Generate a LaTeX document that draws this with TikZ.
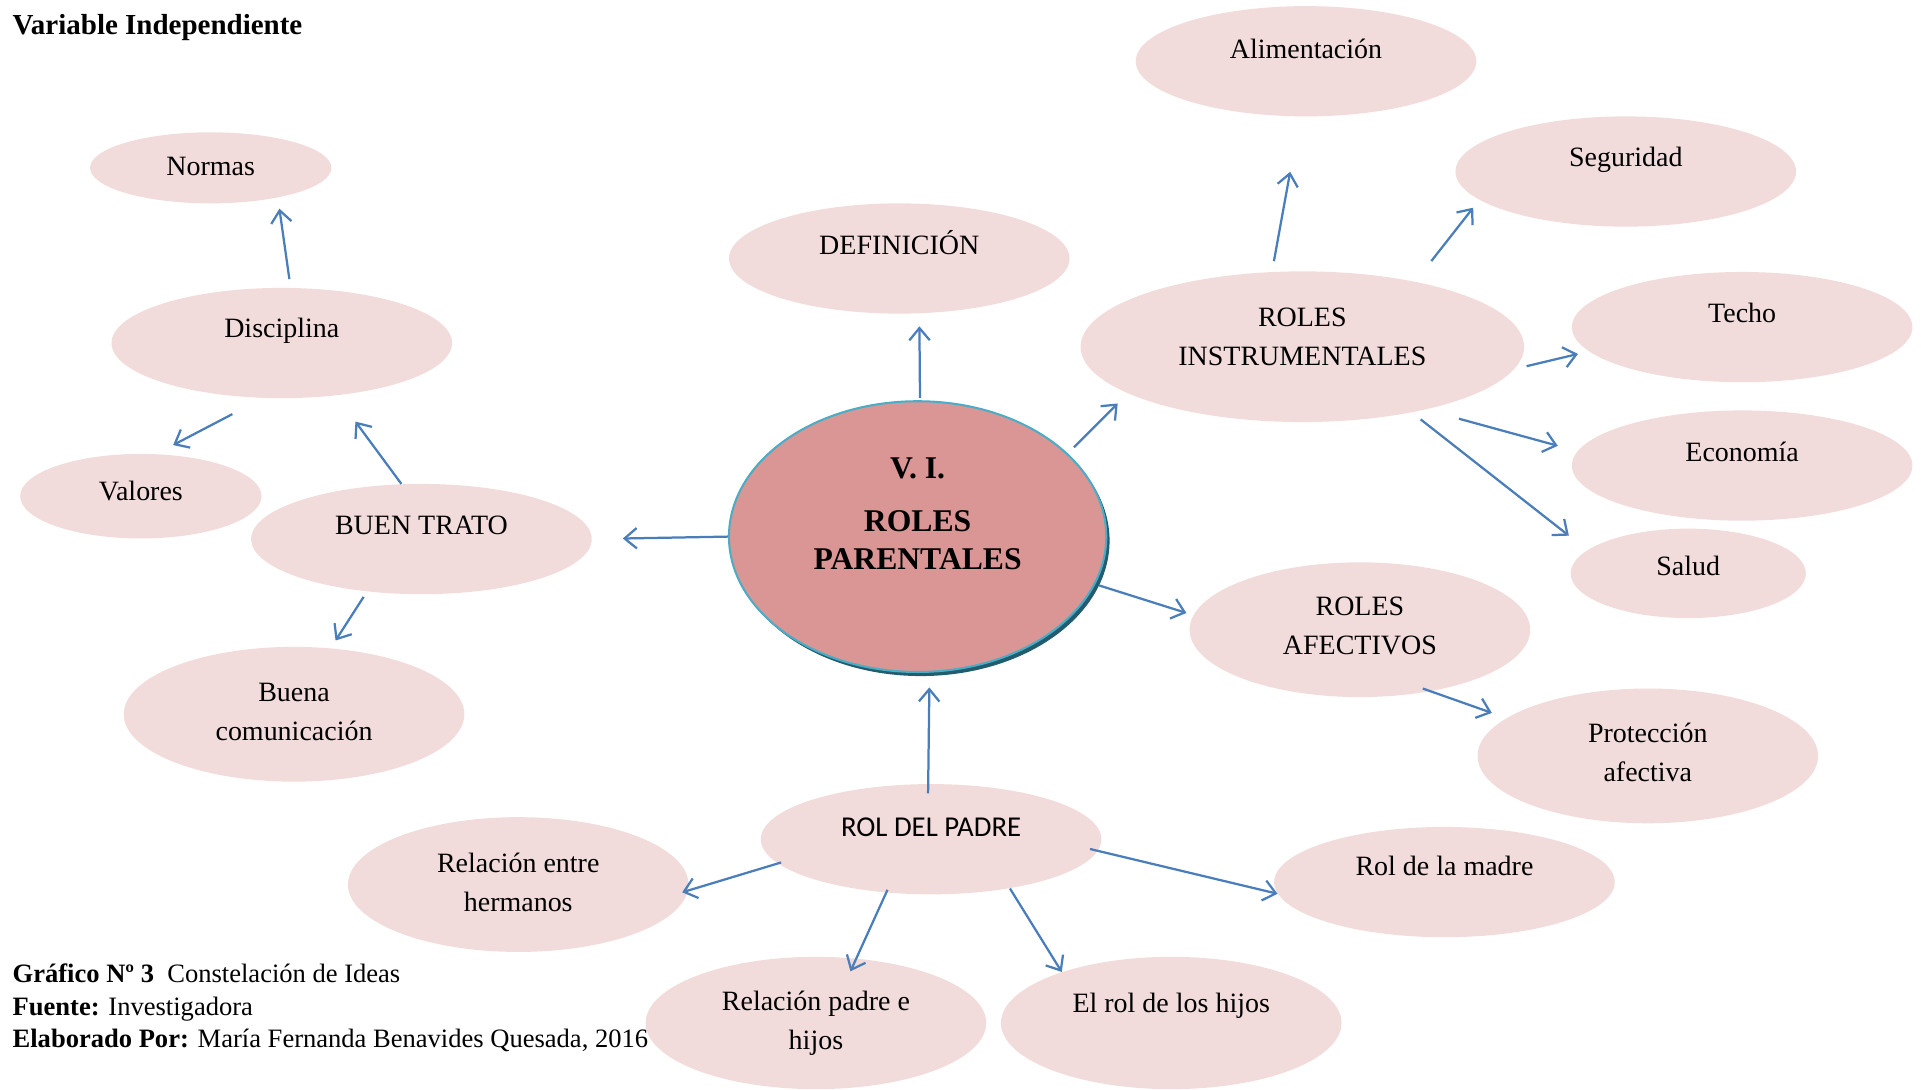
\documentclass[tikz,border=0pt]{standalone}
\usepackage{fontspec}
\setmainfont{Liberation Serif}
\newfontfamily\padrefont{Carlito}
\usepackage{tikz}
\usetikzlibrary{shapes, arrows.meta, shadows}

\definecolor{bubblepink}{HTML}{F2DCDB}
\definecolor{centerrose}{HTML}{D99694}
\definecolor{centeredge}{HTML}{4BACC6}
\definecolor{centershade}{HTML}{215D6E}
\definecolor{linkblue}{HTML}{4A7EBB}

\tikzset{
	bubble/.style = {ellipse, fill=bubblepink, inner sep=0pt, align=center, minimum width=166.8pt, minimum height=54pt, font=\fontsize{13.7}{19.2}\selectfont},
	tallbubble/.style = {bubble, minimum height=66pt},
	lift/.style = {text height=10pt, text depth=#1},
	lift/.default = 14.2pt,
	link/.style = {draw=linkblue, line width=1.1pt, -{Straight Barb[length=6pt, width=10pt]}},
	credit/.style = {anchor=base west, inner sep=0pt, font=\fontsize{13}{15.9}\selectfont}
}

\begin{document}
\begin{tikzpicture}[x=0.6pt, y=-0.6pt]
	\useasboundingbox (0,0) rectangle (1568,889);
	\node[anchor=base west, inner sep=0pt, font=\fontsize{14.2}{17}\selectfont\bfseries] (titulo) at (10,28) {Variable Independiente};

	\node[ellipse, fill=centerrose, draw=centeredge, line width=1pt, minimum width=184.8pt, minimum height=132.6pt, inner sep=0pt, align=center, font=\fontsize{15.5}{18.6}\selectfont\bfseries, drop shadow={shadow xshift=1.6pt, shadow yshift=-2pt, fill=centershade, opacity=1}] (vi) at (749,438) {V. I.\\[7.2pt]ROLES\\PARENTALES\\[4.2pt]\mbox{}};

	\node[bubble, lift] (def) at (734,211) {DEFINICIÓN};
	\node[bubble, minimum width=217.2pt, minimum height=73.8pt] (ri) at (1063,283) {ROLES\\INSTRUMENTALES\\[-9.6pt]\mbox{}};
	\node[bubble, lift=13pt] (ali) at (1066,50) {Alimentación};
	\node[bubble, lift=15.4pt] (seg) at (1327,140) {Seguridad};
	\node[bubble, lift] (techo) at (1422,267) {Techo};
	\node[bubble, lift] (eco) at (1422,380) {Economía};
	\node[bubble, lift=8.2pt, minimum width=115.2pt, minimum height=43.8pt] (salud) at (1378,468) {Salud};
	\node[tallbubble] (ra) at (1110,514) {ROLES\\AFECTIVOS\\[-15.6pt]\mbox{}};
	\node[tallbubble] (prot) at (1345,617) {Protección\\afectiva\\[-15.6pt]\mbox{}};
	\node[bubble, lift=13pt, font=\padrefont\fontsize{14.1}{17}\selectfont] (padre) at (760,685) {ROL DEL PADRE};
	\node[tallbubble] (herm) at (423,722) {Relación entre\\hermanos\\[-16.8pt]\mbox{}};
	\node[bubble, lift=16.6pt] (madre) at (1179,720) {Rol de la madre};
	\node[tallbubble, minimum height=64.8pt] (phijos) at (666,835) {Relación padre e\\hijos};
	\node[tallbubble, minimum height=64.8pt, lift=20.2pt] (hijos) at (956,835) {El rol de los hijos};
	\node[bubble, lift] (bt) at (344,440) {BUEN TRATO};
	\node[bubble, lift=15.4pt] (disc) at (230,280) {Disciplina};
	\node[bubble, lift=2.2pt, minimum width=118.2pt, minimum height=34.8pt] (normas) at (172,137) {Normas};
	\node[bubble, lift=5.8pt, minimum width=118.2pt, minimum height=41.4pt] (valores) at (115,405) {Valores};
	\node[tallbubble] (buena) at (240,583) {Buena\\comunicación\\[-16.8pt]\mbox{}};

	\draw[link, shorten <=1.2pt, shorten >=6.2pt] (vi.89.5) -- (def.-70.3);
	\draw[link, shorten <=4.2pt, shorten >=6.9pt] (vi.29.5) -- (ri.195.6);
	\draw[link, shorten <=5.2pt, shorten >=27.4pt] (ri.112) -- (ali.-96.4);
	\draw[link, shorten <=12.7pt, shorten >=4.8pt] (ri.30.3) -- (seg.191.5);
	\draw[link, shorten <=6pt, shorten >=5.4pt] (ri.-6.4) -- (techo.189.7);
	\draw[link, shorten <=16.8pt, shorten >=9.9pt] (ri.-27.7) -- (eco.175.5);
	\draw[link, shorten <=5.4pt, shorten >=11.4pt] (ri.-31.3) -- (salud.167.6);
	\draw[link, shorten <=1.8pt, shorten >=3.5pt] (vi.-15.2) -- (ra.175.7);
	\draw[link, shorten <=-4.2pt, shorten >=7.5pt] (ra.-41.6) -- (prot.165);
	\draw[link, shorten <=-4.8pt, shorten >=7.2pt] (padre.93.8) -- (vi.-85.8);
	\draw[link, shorten <=-1.8pt, shorten >=-3.1pt] (padre.189.7) -- (herm.-2.7);
	\draw[link, shorten <=-1.6pt, shorten >=-7pt] (padre.230.2) -- (phijos.58.6);
	\draw[link] (padre.-32.2) -- (hijos.155);
	\draw[link, shorten <=-4pt] (padre.-4.9) -- (madre.184.2);
	\draw[link, shorten >=15pt] (vi.180.7) -- (bt.0);
	\draw[link, shorten >=15.8pt] (bt.110.7) -- (disc.-44.7);
	\draw[link, shorten <=3pt, shorten >=4.4pt] (bt.224.1) -- (buena.61.8);
	\draw[link, shorten <=4.2pt, shorten >=5.4pt] (disc.81) -- (normas.-24);
	\draw[link, shorten <=16.8pt, shorten >=9.3pt] (disc.251.2) -- (valores.70);

	\node[credit] (grafico) at (10,802) {\textbf{Gráfico Nº 3}\ \ Constelación de Ideas};
	\node[credit] (fuente) at (10,829) {\textbf{Fuente:} Investigadora};
	\node[credit] (autora) at (10,855) {\textbf{Elaborado Por:} María Fernanda Benavides Quesada, 2016};
\end{tikzpicture}
\end{document}
